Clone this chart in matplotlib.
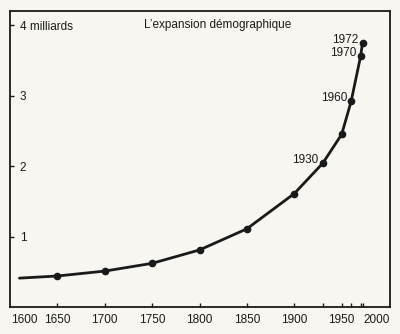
import matplotlib
matplotlib.use("Agg")
import matplotlib.pyplot as plt

# Data (world population, billions)
years = [1610, 1650, 1700, 1750, 1800, 1850, 1900, 1930, 1950, 1960, 1970, 1972]
population = [0.41, 0.44, 0.51, 0.62, 0.81, 1.11, 1.61, 2.04, 2.45, 2.92, 3.56, 3.75]
marker_years = [1650, 1700, 1750, 1800, 1850, 1900, 1930, 1950, 1960, 1970, 1972]
marker_pop = [0.44, 0.51, 0.62, 0.81, 1.11, 1.61, 2.04, 2.45, 2.92, 3.56, 3.75]
labelled_years = ["1930", "1960", "1970", "1972"]

x_label_pos = [1615, 1650, 1700, 1750, 1800, 1850, 1900, 1950, 1987]
x_labels = ["1600", "1650", "1700", "1750", "1800", "1850", "1900", "1950", "2000"]
x_tick_marks = [1650, 1700, 1750, 1800, 1850, 1900, 1930, 1950, 1960, 1970, 1972]
y_ticks = [1, 2, 3, 4]
y_labels = ["1", "2", "3", "4 milliards"]
title = "L\u2019expansion démographique"

plt.rcParams['font.family'] = ['Liberation Sans', 'DejaVu Sans']
ink = "#1a1a1a"
bg = "#f7f6f1"

fig = plt.figure(figsize=(4.0, 3.34), dpi=100, facecolor=bg)
ax = fig.add_axes([0.025, 0.0808, 0.95, 0.886], facecolor=bg)

ax.plot(years, population, color=ink, lw=2.0, solid_joinstyle='round', solid_capstyle='round')
ax.plot(marker_years, marker_pop, 'o', color=ink, ms=4.5)

for y, v in zip(marker_years, marker_pop):
    if str(y) in labelled_years:
        ax.annotate(str(y), (y, v), xytext=(-4, 3), textcoords='offset pixels',
                    ha='right', va='center', fontsize=8.5, color=ink)

ax.set_xlim(1600, 2001)
ax.set_ylim(0, 4.2)

ax.xaxis.remove_overlapping_locs = False
ax.set_xticks(x_label_pos)
ax.set_xticklabels(x_labels)
ax.set_xticks(x_tick_marks, minor=True)
ax.tick_params(axis='x', which='major', length=0, pad=5, labelsize=8.5, labelcolor=ink)
ax.tick_params(axis='x', which='minor', direction='in', length=3, width=1, color=ink)

ax.set_yticks(y_ticks)
ax.set_yticklabels(y_labels)
ax.tick_params(axis='y', direction='in', length=3, width=1, color=ink, pad=-7,
               labelsize=8.5, labelcolor=ink)
for lbl in ax.get_yticklabels():
    lbl.set_horizontalalignment('left')

for s in ax.spines.values():
    s.set_linewidth(1.3)
    s.set_color(ink)

ax.text(1819, 4.0, title, ha='center', va='center', fontsize=8.5, color=ink)

fig.savefig("out.png", dpi=100, facecolor=bg)
